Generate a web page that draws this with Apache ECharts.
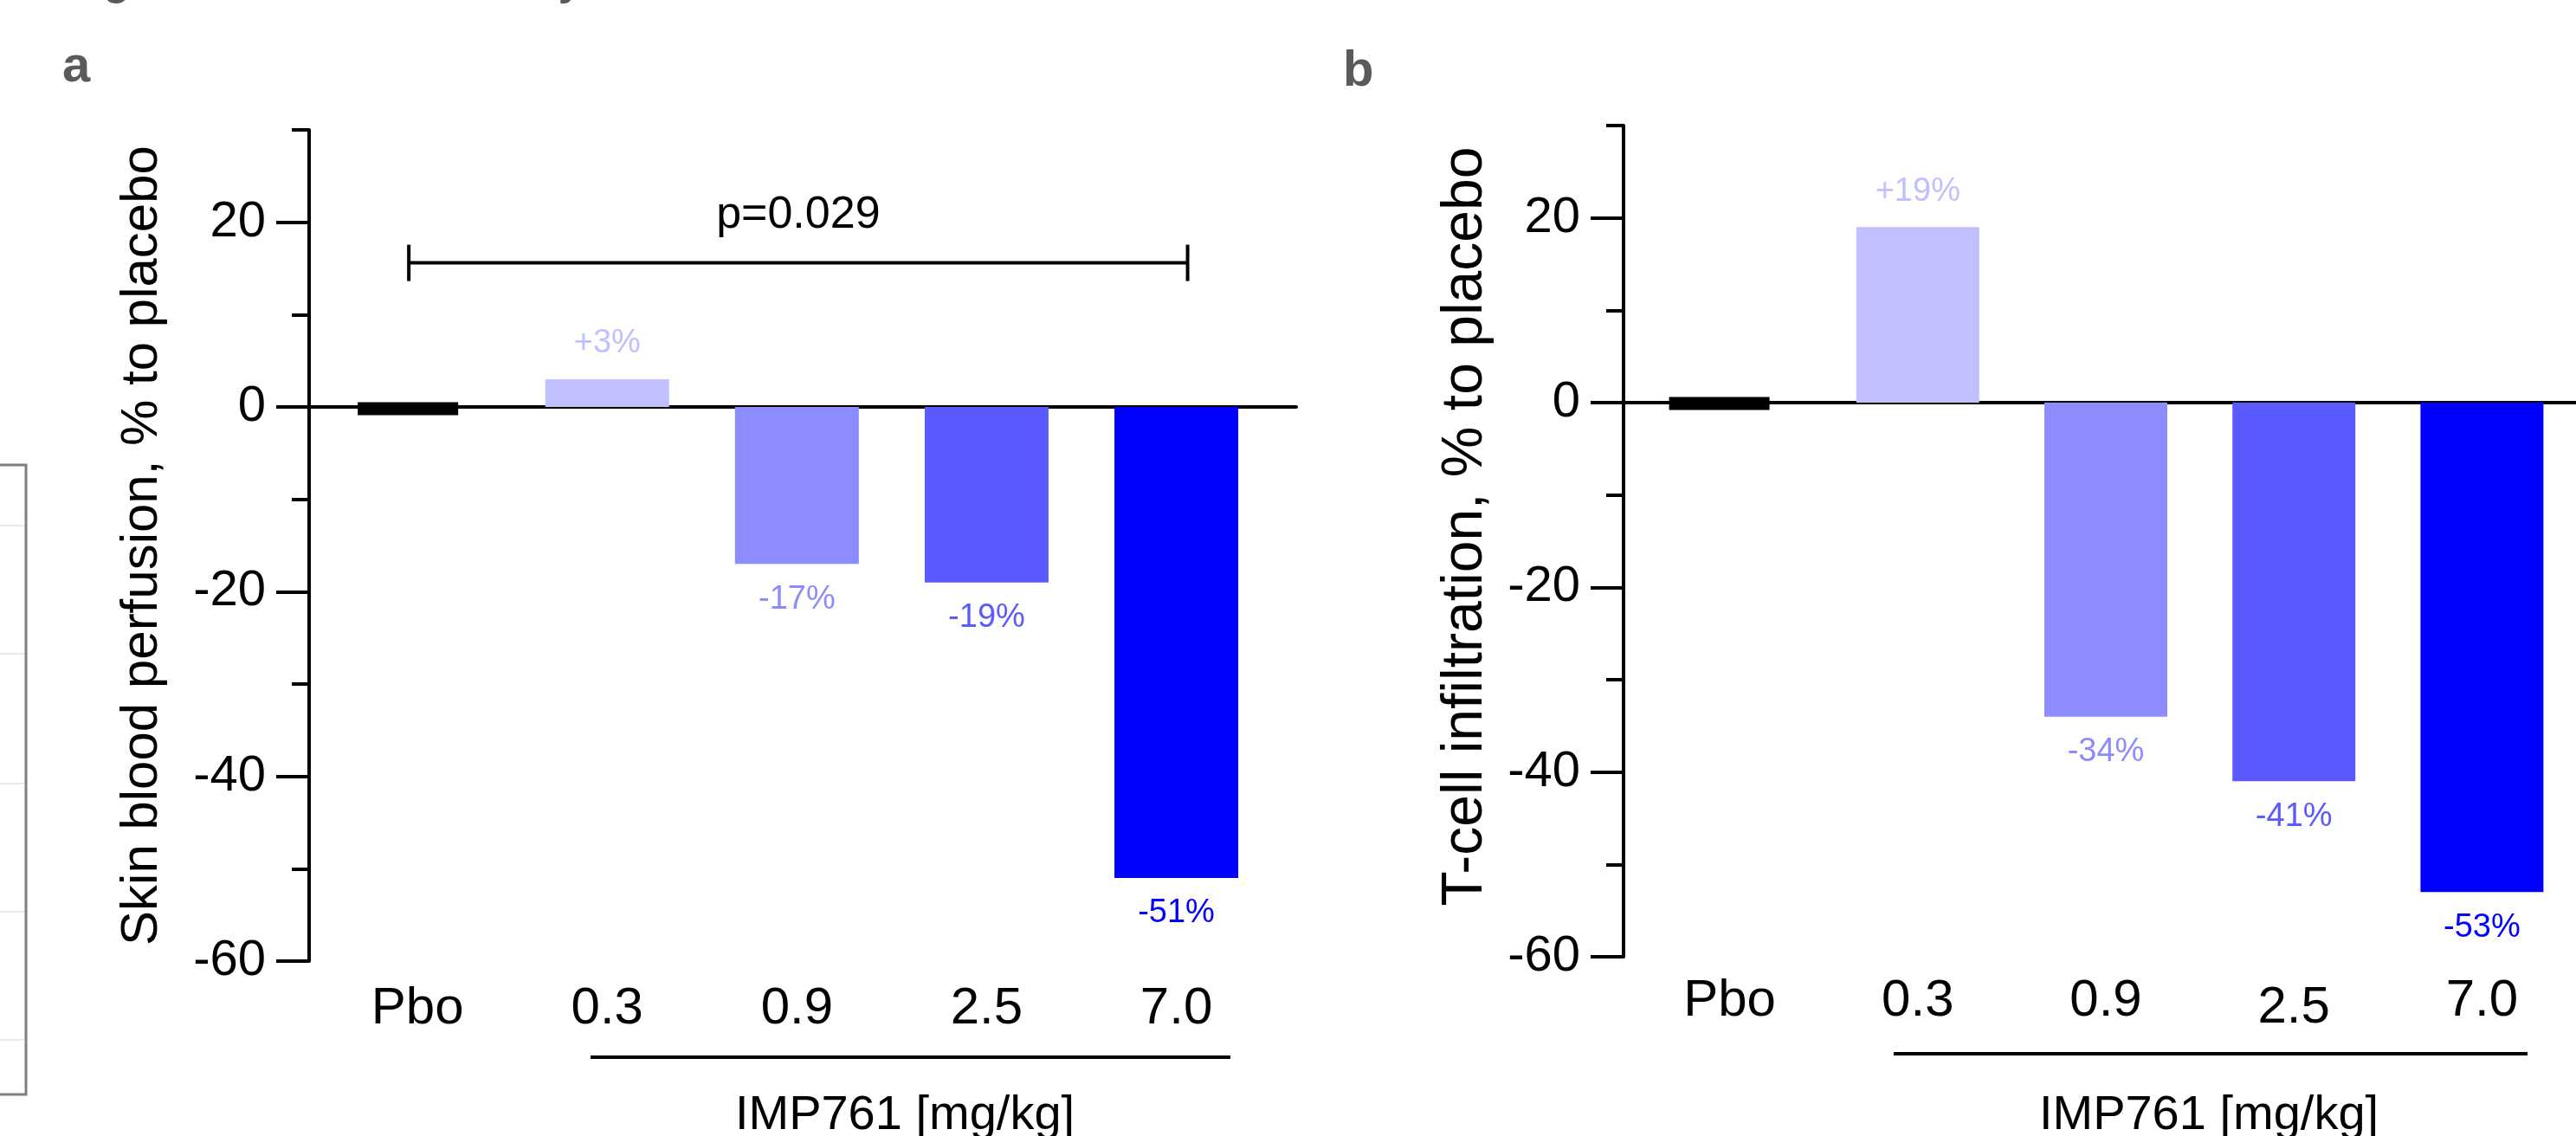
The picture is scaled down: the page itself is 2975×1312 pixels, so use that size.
<!DOCTYPE html>
<html><head><meta charset="utf-8">
<script src="https://cdn.jsdelivr.net/npm/echarts@6/dist/echarts.min.js"></script>
<style>html,body{margin:0;padding:0;background:#fff}#c{width:2975px;height:1312px}</style>
</head><body><div id="c"></div>
<script>
// ---------- data ----------
const categories = ['Pbo', '0.3', '0.9', '2.5', '7.0'];
const perfusionValues = [0, 3, -17, -19, -51];      // panel a, % to placebo
const tcellValues = [0, 19, -34, -41, -53];         // panel b, % to placebo
const barColors = ['#000000', '#c0c0ff', '#8c8cff', '#5a5aff', '#0000ff'];
const yMajorTicks = [-60, -40, -20, 0, 20];
const yMinorTicks = [-50, -30, -10, 10, 30];
const bracketA = [[0, 4, 15.6]];                    // from category, to category, y value
const bracketText = 'p=0.029';
const titleA = 'Skin blood perfusion, % to placebo';
const titleB = 'T-cell infiltration, % to placebo';
const doseTitle = 'IMP761 [mg/kg]';
const figTitle = 'Figure 3: IMP761 efficacy in animal models';

// ---------- helpers ----------
const FONT = '"Liberation Sans", Arial, Helvetica, sans-serif';
const fmt = v => (v > 0 ? '+' : '') + v + '%';

function barData(values) {
  return values.map((v, i) => i === 0 ? '-' : {
    value: v,
    itemStyle: { color: barColors[i] },
    label: { show: true, position: v >= 0 ? 'top' : 'bottom', distance: 22,
             color: barColors[i], fontSize: 38, fontFamily: FONT, formatter: p => fmt(p.value) }
  });
}

function frameAxes(gridIndex, name, nameGap, nameSize, namePad) {
  return [
    { gridIndex, type: 'value', position: 'left', min: -60, max: 30, interval: 10,
      name, nameLocation: 'middle', nameGap,
      nameTextStyle: { color: '#000', fontSize: nameSize, fontFamily: FONT, padding: namePad },
      axisLine: { show: true, lineStyle: { color: '#000', width: 4 } },
      axisTick: { show: true, length: 38, lineStyle: { color: '#000', width: 4 }, customValues: yMajorTicks },
      axisLabel: { color: '#000', fontSize: 58, fontFamily: FONT, margin: 50, customValues: yMajorTicks },
      splitLine: { show: false } },
    { gridIndex, type: 'value', position: 'left', offset: 0, min: -60, max: 30, interval: 10,
      axisLine: { show: false },
      axisTick: { show: true, length: 20, lineStyle: { color: '#000', width: 4 }, customValues: yMinorTicks },
      axisLabel: { show: false }, splitLine: { show: false } }
  ];
}
function hiddenY(gridIndex) {
  return { gridIndex, type: 'value', min: -60, max: 30, show: false, splitLine: { show: false } };
}
function frameX(gridIndex) {
  return { gridIndex, type: 'category', data: categories,
    axisLine: { show: true, onZero: true, lineStyle: { color: '#000', width: 4 } },
    axisTick: { show: false }, axisLabel: { show: false } };
}
function barX(gridIndex, margin, lowLabel) {
  return { gridIndex, type: 'category', data: categories,
    axisLine: { show: false, onZero: false }, axisTick: { show: false },
    axisLabel: { color: '#000', fontSize: 60, fontFamily: FONT, margin, interval: 0, hideOverlap: false,
      formatter: v => (v === lowLabel ? '{low|' + v + '}' : v),
      rich: { low: { color: '#000', fontSize: 60, fontFamily: FONT, padding: [8, 0, 0, 0] } } } };
}

const chart = echarts.init(document.getElementById('c'), null, { renderer: 'canvas' });
chart.setOption({
  backgroundColor: '#fff',
  animation: false,
  grid: [
    { left: 357, top: 150, width: 1140, height: 960 },
    { left: 372.6, top: 150, width: 1095.5, height: 960 },
    { left: 1875, top: 145, width: 1100, height: 960 },
    { left: 1889, top: 145, width: 1091.5, height: 960 }
  ],
  xAxis: [frameX(0), barX(1, 25, null), frameX(2), barX(3, 21, '2.5')],
  yAxis: [
    ...frameAxes(0, titleA, 163, 60, 0), hiddenY(1),
    ...frameAxes(2, titleB, 149, 66, [0, 0, 0, 34]), hiddenY(3)
  ],
  series: [
    { type: 'bar', xAxisIndex: 1, yAxisIndex: 2, barWidth: 143, data: barData(perfusionValues) },
    { type: 'scatter', xAxisIndex: 1, yAxisIndex: 2, symbol: 'rect', symbolSize: [116, 15], symbolOffset: [-11, 2],
      itemStyle: { color: barColors[0], opacity: 1 }, data: [[categories[0], perfusionValues[0]]] },
    { type: 'custom', xAxisIndex: 1, yAxisIndex: 2, data: bracketA,
      renderItem: (params, api) => {
        const p0 = api.coord([api.value(0), api.value(2)]);
        const p1 = api.coord([api.value(1), api.value(2)]);
        const x0 = p0[0] - 10, x1 = p1[0] + 13, y = p0[1];
        const st = { stroke: '#000', lineWidth: 4 };
        return { type: 'group', children: [
          { type: 'line', shape: { x1: x0, y1: y, x2: x1, y2: y }, style: st },
          { type: 'line', shape: { x1: x0, y1: y - 21, x2: x0, y2: y + 21 }, style: st },
          { type: 'line', shape: { x1: x1, y1: y - 21, x2: x1, y2: y + 21 }, style: st },
          { type: 'text', x: (x0 + x1) / 2, y: y - 55,
            style: { text: bracketText, fill: '#000', font: '52px ' + FONT, textAlign: 'center', textVerticalAlign: 'middle' } }
        ] };
      } },
    { type: 'bar', xAxisIndex: 3, yAxisIndex: 5, barWidth: 142, data: barData(tcellValues) },
    { type: 'scatter', xAxisIndex: 3, yAxisIndex: 5, symbol: 'rect', symbolSize: [116, 15], symbolOffset: [-12, 1],
      itemStyle: { color: barColors[0], opacity: 1 }, data: [[categories[0], tcellValues[0]]] }
  ],
  graphic: [
    { type: 'text', x: 75, y: 5, style: { text: figTitle, font: 'bold 50px ' + FONT, fill: '#595959', textVerticalAlign: 'bottom' } },
    { type: 'text', x: 72, y: 107, style: { text: 'a', font: 'bold 58px ' + FONT, fill: '#5a5a5a', textVerticalAlign: 'bottom' } },
    { type: 'text', x: 1551, y: 112, style: { text: 'b', font: 'bold 58px ' + FONT, fill: '#5a5a5a', textVerticalAlign: 'bottom' } },
    { type: 'line', shape: { x1: 682, y1: 1221, x2: 1421, y2: 1221 }, style: { stroke: '#000', lineWidth: 4 } },
    { type: 'line', shape: { x1: 2187, y1: 1217, x2: 2919, y2: 1217 }, style: { stroke: '#000', lineWidth: 4 } },
    { type: 'text', x: 1045, y: 1261, style: { text: doseTitle, font: '56px ' + FONT, fill: '#000', textAlign: 'center', textVerticalAlign: 'top' } },
    { type: 'text', x: 2551, y: 1261, style: { text: doseTitle, font: '56px ' + FONT, fill: '#000', textAlign: 'center', textVerticalAlign: 'top' } },
    { type: 'rect', shape: { x: -20, y: 537, width: 50, height: 727 }, style: { fill: 'none', stroke: '#7f7f7f', lineWidth: 3 } },
    ...[607, 755, 905, 1053, 1201].map(yy => ({ type: 'line', shape: { x1: 0, y1: yy, x2: 28, y2: yy }, style: { stroke: '#e8e8e8', lineWidth: 2 } }))
  ]
});
</script></body></html>
